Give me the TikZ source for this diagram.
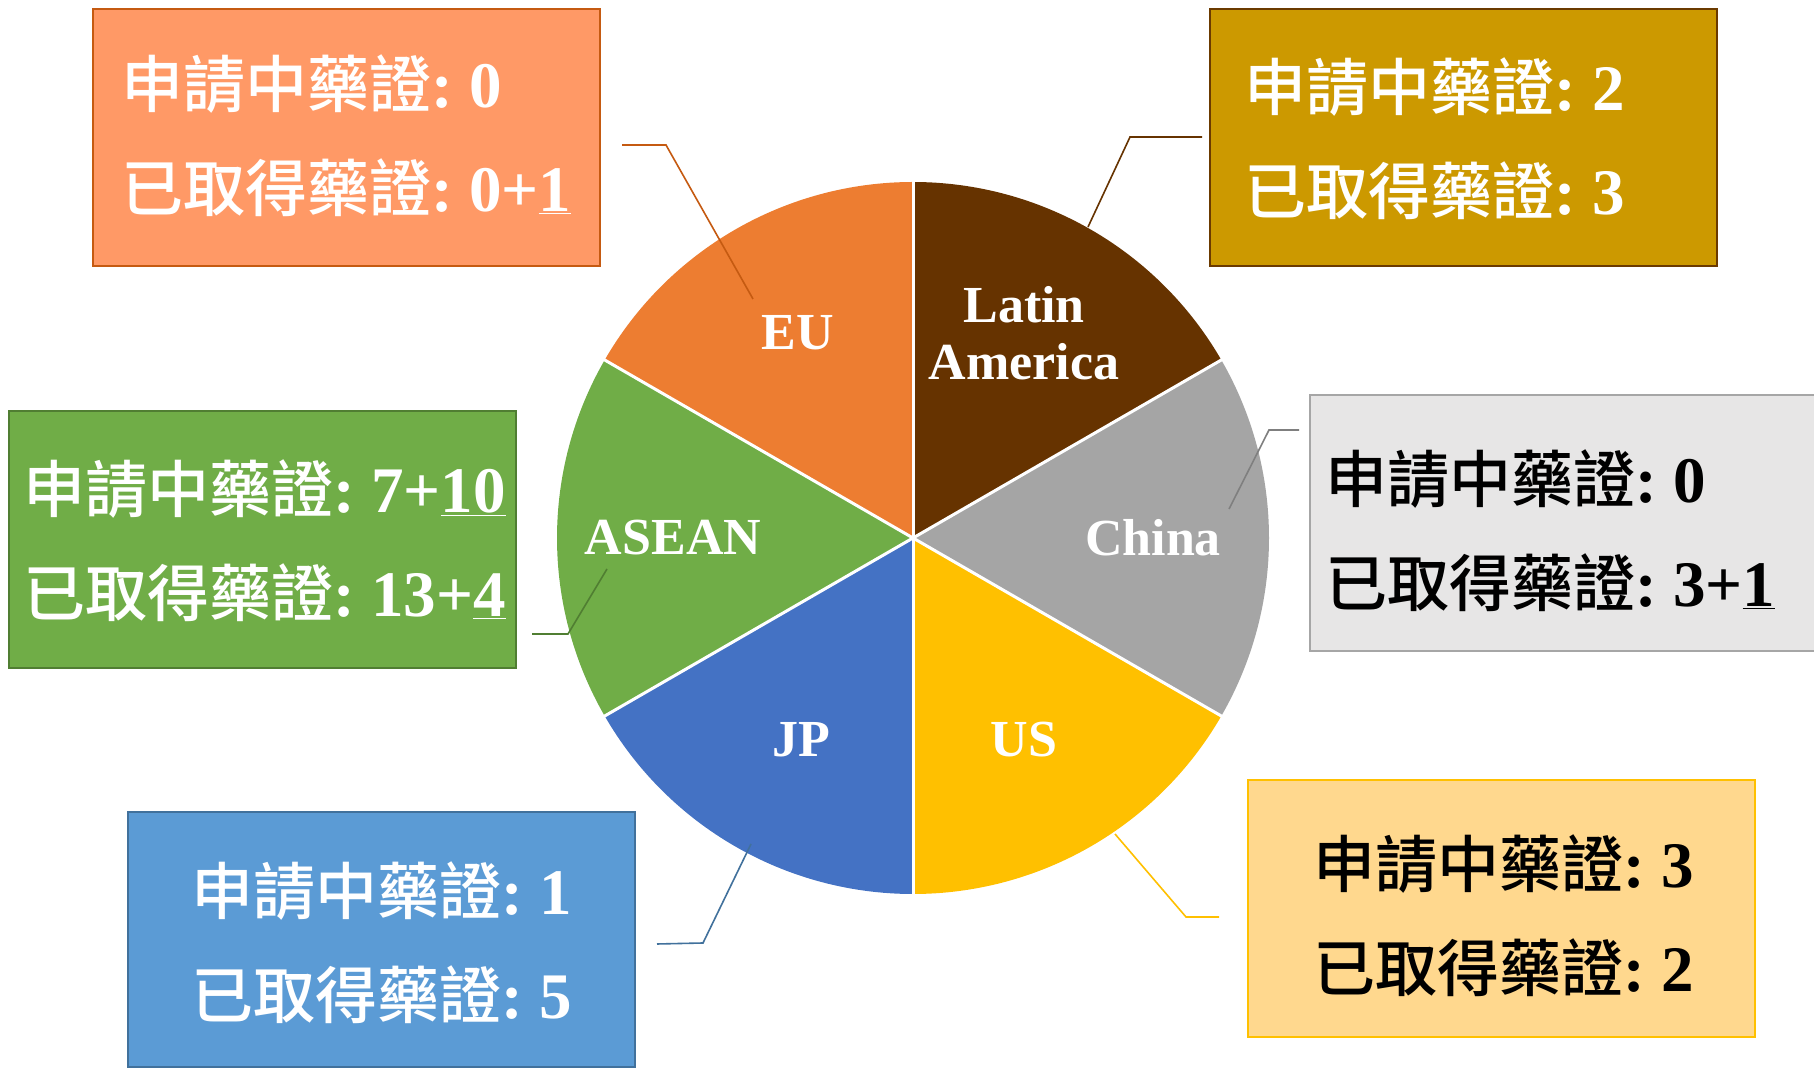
\documentclass[tikz,border=0pt]{standalone}
\usepackage{fontspec}
\setmainfont{Liberation Serif}
\newfontfamily\cjkfont{Noto Sans CJK TC Medium}
\usetikzlibrary{positioning}

\definecolor{eucol}{HTML}{ED7D31}
\definecolor{latcol}{HTML}{663300}
\definecolor{chinacol}{HTML}{A5A5A5}
\definecolor{uscol}{HTML}{FFC000}
\definecolor{jpcol}{HTML}{4472C4}
\definecolor{aseancol}{HTML}{70AD47}

\definecolor{eubox}{HTML}{FF9966}
\definecolor{euedge}{HTML}{C55A11}
\definecolor{latbox}{HTML}{CC9900}
\definecolor{latedge}{HTML}{6B3A00}
\definecolor{chinabox}{HTML}{E7E6E6}
\definecolor{chinaedge}{HTML}{A6A6A6}
\definecolor{chinaline}{HTML}{7F7F7F}
\definecolor{aseanedge}{HTML}{507E32}
\definecolor{jpbox}{HTML}{5B9BD5}
\definecolor{jpedge}{HTML}{41719C}
\definecolor{usbox}{HTML}{FFD88E}

\newcommand{\pending}{{\mdseries\fontsize{62}{104}\selectfont\cjkfont 申請中藥證}:\ }
\newcommand{\obtained}{{\mdseries\fontsize{62}{104}\selectfont\cjkfont 已取得藥證}:\ }

\tikzset{
	infobox/.style={draw, rectangle, line width=2pt, minimum width=507pt, minimum height=257pt, inner sep=0pt},
	infotext/.style={anchor=west, align=left, inner sep=0pt, font=\fontsize{65}{104}\selectfont\bfseries},
	slicelabel/.style={text=white, align=center, inner sep=0pt, font=\fontsize{52}{57}\selectfont\bfseries},
	leader/.style={line width=1.6pt},
}

\begin{document}
\begin{tikzpicture}[x=1pt, y=1pt]
	
	\path [use as bounding box, fill=white] (0, 0) rectangle (1814, 1070);
	
	\coordinate (pie) at (913, 532);
	
	\foreach \a/\b/\c in {90/150/eucol, 30/90/latcol, -30/30/chinacol, -90/-30/uscol, -150/-90/jpcol, 150/210/aseancol}{
		\fill [\c] (pie) -- ++(\a:356) arc [start angle=\a, end angle=\b, radius=356] -- cycle;
	}
	\foreach \a in {90, 30, -30, -90, -150, 150}{
		\draw [white, line width=3pt] (pie) -- ++(\a:357);
	}
	
	\node [slicelabel] at (798, 737) (eu_label){EU};
	\node [slicelabel] at (1024, 737) (lat_label){Latin\\America};
	\node [slicelabel] at (1153, 532) (china_label){China};
	\node [slicelabel] at (673, 532) (asean_label){ASEAN};
	\node [slicelabel] at (801, 330) (jp_label){JP};
	\node [slicelabel] at (1024, 330) (us_label){US};
	
	\node [infobox, fill=eubox, draw=euedge] at (346, 932.5) (eu_box){};
	\node [infotext, text=white] at (121, 934) (eu_text){\pending 0\\\obtained 0+\underline{1}};
	
	\node [infobox, fill=latbox, draw=latedge] at (1463.5, 932.5) (lat_box){};
	\node [infotext, text=white] at (1244, 931) (lat_text){\pending 2\\\obtained 3};
	
	\node [infobox, fill=chinabox, draw=chinaedge, minimum width=520pt, minimum height=256pt] at (1570, 547) (china_box){};
	\node [infotext, text=black] at (1325, 539) (china_text){\pending 0\\\obtained 3+\underline{1}};
	
	\node [infobox, fill=aseancol, draw=aseanedge] at (262.5, 530.5) (asean_box){};
	\node [infotext, text=white] at (23, 529) (asean_text){\pending 7+\underline{10}\\\obtained 13+\underline{4}};
	
	\node [infobox, fill=jpbox, draw=jpedge, minimum height=255pt] at (381.5, 130.5) (jp_box){};
	\node [infotext, text=white] at (191, 127) (jp_text){\pending 1\\\obtained 5};
	
	\node [infobox, fill=usbox, draw=uscol] at (1501.5, 161.5) (us_box){};
	\node [infotext, text=black] at (1313, 154) (us_text){\pending 3\\\obtained 2};
	
	\coordinate (eu_a) at (622, 925);
	\coordinate (eu_b) at (666, 925);
	\coordinate (eu_c) at (753, 771);
	\coordinate (lat_a) at (1202, 933);
	\coordinate (lat_b) at (1130, 933);
	\coordinate (lat_c) at (1088, 843);
	\coordinate (china_a) at (1299, 640);
	\coordinate (china_b) at (1269, 640);
	\coordinate (china_c) at (1229, 561);
	\coordinate (asean_a) at (532, 436);
	\coordinate (asean_b) at (568, 436);
	\coordinate (asean_c) at (607, 501);
	\coordinate (jp_a) at (657, 126);
	\coordinate (jp_b) at (703, 127);
	\coordinate (jp_c) at (751, 226);
	\coordinate (us_a) at (1219, 153);
	\coordinate (us_b) at (1186, 153);
	\coordinate (us_c) at (1115, 236);
	
	\foreach \x/\col in {eu/euedge, lat/latcol, china/chinaline, asean/aseanedge, jp/jpedge, us/uscol}{
		\draw [leader, \col] (\x_a) -- (\x_b) -- (\x_c);
	}
	
\end{tikzpicture}
\end{document}
